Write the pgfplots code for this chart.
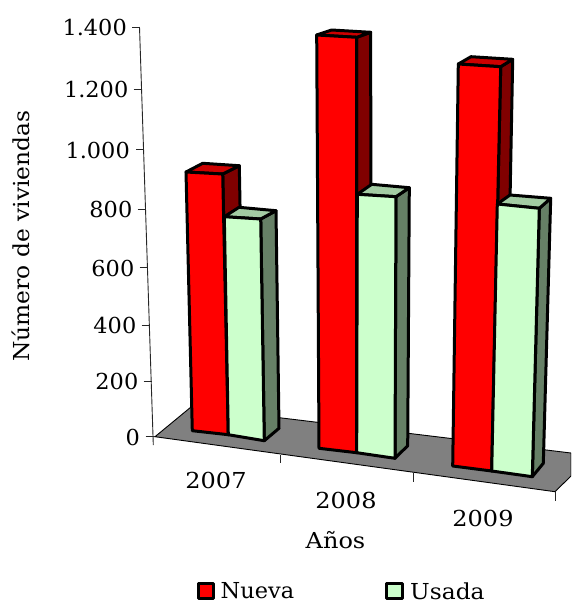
\documentclass[border=0pt]{standalone}
\usepackage{fontspec}
\setmainfont[FakeStretch=1.02]{DejaVu Serif}
\usepackage{pgfplots}
\pgfplotsset{compat=1.18}
\definecolor{rf}{HTML}{FF0000}\definecolor{rs}{HTML}{800000}\definecolor{rt}{HTML}{CC0000}
\definecolor{gf}{HTML}{CCFFCC}\definecolor{gs}{HTML}{668066}\definecolor{gt}{HTML}{A3CCA3}
\newcommand{\face}[2]{\addplot[draw=black,line width=3pt,line join=round,fill=#1] coordinates {#2} -- cycle;}
\newcommand{\tline}[1]{\addplot[draw=black!85,line width=0.9pt] coordinates {#1};}
\begin{document}
\begin{tikzpicture}
\begin{axis}[hide axis,scale only axis,width=571pt,height=603pt,xmin=0,xmax=571,ymin=0,ymax=603,y dir=reverse,
  nodes={font=\fontsize{22}{26}\selectfont,inner sep=0pt}]
\coordinate (bbA) at (axis cs:0,0);
\coordinate (bbB) at (axis cs:571,603);
% floor
\addplot[draw=black,line width=0.9pt,fill=black!50] coordinates {(155,436.7)(191,407)(571,453)(571,476)(555,491.7)} -- cycle;
% vertical axis and ticks
\tline{(139.5,27)(153.3,445)}
\tline{(132,27)(139.5,27)}
\tline{(133.5,89)(141.5,89)}
\tline{(136,149.3)(143.5,149.3)}
\tline{(137.5,209)(145.5,209)}
\tline{(139.5,267.3)(147.5,267.3)}
\tline{(141.5,325)(149.5,325)}
\tline{(143.5,381)(151.5,381)}
\tline{(145.7,436.7)(155,436.7)}
\tline{(280,455)(280,463)}
\tline{(413.3,473)(413.3,482)}
\tline{(555,491.7)(555,501)}
% 2007 Nueva
\face{rs}{(222.7,174)(239.3,165.7)(244,426)(228.3,434.7)}
\face{rt}{(186,172)(202.7,163.3)(239.3,165.7)(222.7,174)}
\face{rf}{(186,172)(222.7,174)(228.3,434.7)(192.3,430.7)}
% 2007 Usada
\face{gs}{(260.7,219)(276,210.7)(279,428.3)(264.3,440.7)}
\face{gt}{(224.3,216.7)(239,207.3)(276,210.7)(260.7,219)}
\face{gf}{(224.3,216.7)(260.7,219)(264.3,440.7)(228.3,434.7)}
% 2008 Nueva
\face{rs}{(356.7,37.3)(370.7,32.3)(371,447)(356.7,452.7)}
\face{rt}{(316.7,35)(331.7,30)(370.7,32.3)(356.7,37.3)}
\face{rf}{(316.7,35)(356.7,37.3)(356.7,452.7)(319,448.3)}
% 2008 Usada
\face{gs}{(396,196.7)(409.3,187.7)(407.7,445.7)(395,458.3)}
\face{gt}{(357.3,194.3)(371.7,184.3)(409.3,187.7)(396,196.7)}
\face{gf}{(357.3,194.3)(396,196.7)(395,458.3)(356.7,452.7)}
% 2009 Nueva
\face{rs}{(500.7,66.7)(512.7,59.3)(505,463)(491.7,471)}
\face{rt}{(458.3,64)(471,56.7)(512.7,59.3)(500.7,66.7)}
\face{rf}{(458.3,64)(500.7,66.7)(491.7,471)(452.7,466)}
% 2009 Usada
\face{gs}{(539.3,208.3)(550.7,198.3)(543.3,463.3)(532.3,476.7)}
\face{gt}{(497.3,204)(510,195)(550.7,198.3)(539.3,208.3)}
\face{gf}{(497.3,204)(539.3,208.3)(532.3,476.7)(491.7,471)}
% legend keys
\face{rf}{(198,583.5)(213.5,583.5)(213.5,598.5)(198,598.5)}
\face{gf}{(386.5,583.5)(402,583.5)(402,598.5)(386.5,598.5)}
% tick labels
\node[anchor=east] at (axis cs:127,27.5) {1.400};
\node[anchor=east] at (axis cs:128.5,89.5) {1.200};
\node[anchor=east] at (axis cs:130,150) {1.000};
\node[anchor=east] at (axis cs:132.5,209.5) {800};
\node[anchor=east] at (axis cs:134.5,268) {600};
\node[anchor=east] at (axis cs:136.5,325.5) {400};
\node[anchor=east] at (axis cs:138.5,381.5) {200};
\node[anchor=east] at (axis cs:140,437) {0};
\node[xscale=1.07] at (axis cs:216,480) {2007};
\node[xscale=1.07] at (axis cs:346,500) {2008};
\node[xscale=1.07] at (axis cs:483,518) {2009};
\node[xscale=1.07] at (axis cs:335.5,540) {Años};
\node[rotate=90,xscale=1.04] at (axis cs:21,236) {Número de viviendas};
\node[anchor=west] at (axis cs:220.5,591) {Nueva};
\node[anchor=west,xscale=1.04] at (axis cs:410,591) {Usada};
\end{axis}
\pgfresetboundingbox
\path[use as bounding box] (bbA) rectangle (bbB);
\end{tikzpicture}
\end{document}
